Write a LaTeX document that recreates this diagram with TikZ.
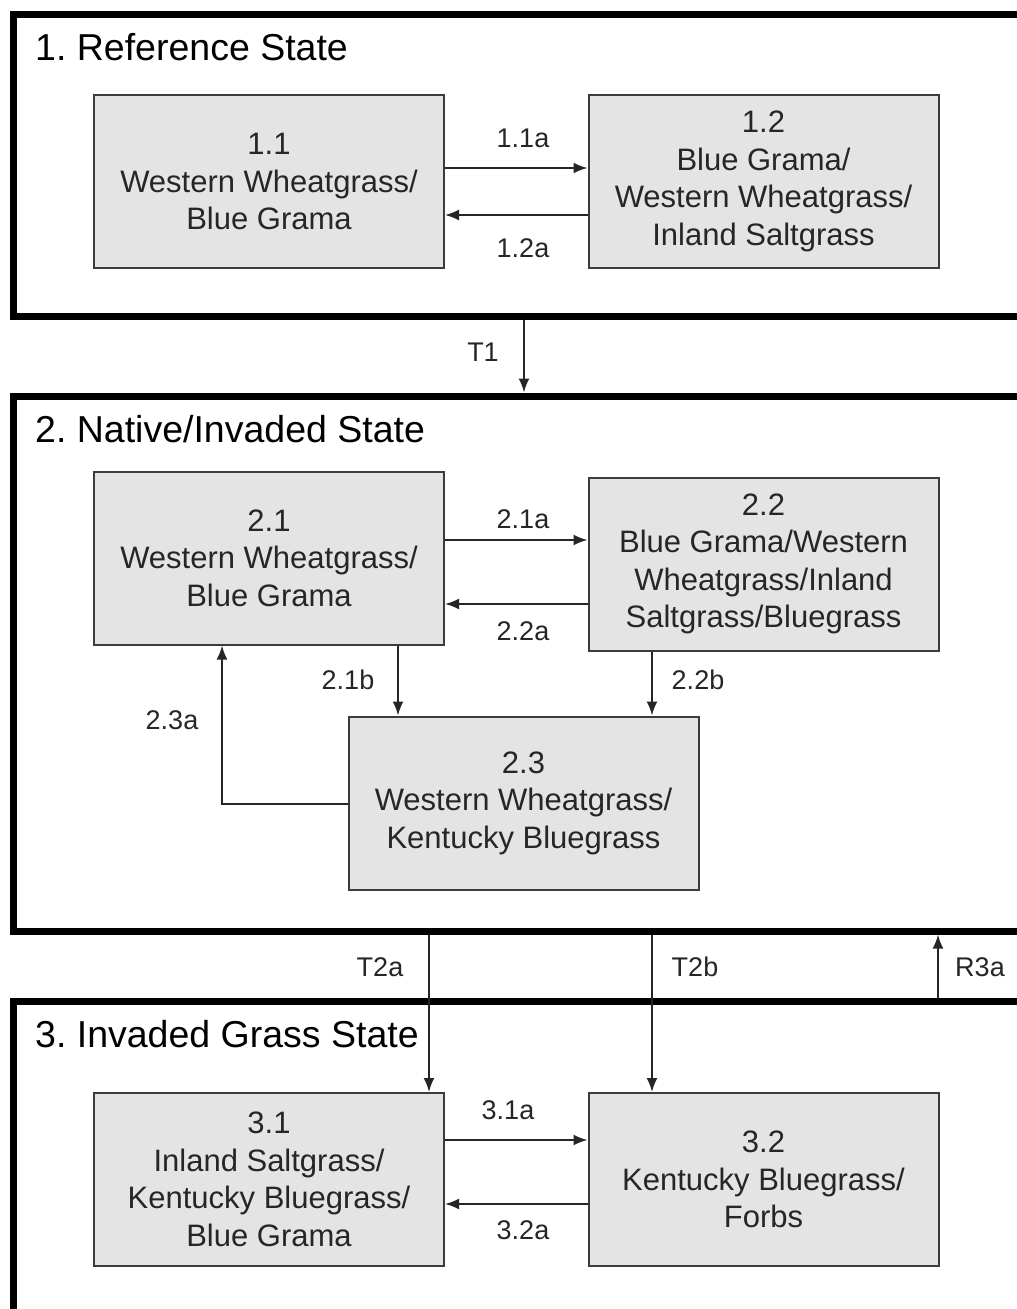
\documentclass[tikz,border=0pt]{standalone}
\usepackage{fontspec}
\setmainfont{Liberation Sans}
\usetikzlibrary{arrows.meta}
\definecolor{boxfill}{HTML}{E4E4E4}
\definecolor{boxline}{HTML}{3C3C3C}
\definecolor{txt}{HTML}{262626}
\frenchspacing
\begin{document}
\begin{tikzpicture}[x=1pt,y=-1pt,
  stateframe/.style={draw=black, line width=7pt, anchor=north west, inner sep=0pt, minimum width=1030pt},
  sub/.style={draw=boxline, line width=2pt, fill=boxfill, inner sep=0pt, align=center, text=txt,
    minimum width=350pt, minimum height=173pt, font=\fontsize{31}{37.5}\selectfont},
  arr/.style={line width=2pt, draw=black!85, -{Latex[length=14pt,width=11pt]}},
  lab/.style={text=txt, inner sep=0pt, font=\fontsize{27}{30}\selectfont},
  ttl/.style={anchor=base west, inner sep=0pt, text=black, font=\fontsize{37.5}{40}\selectfont}]
\useasboundingbox (0,0) rectangle (1017,1309);
\clip (0,0) rectangle (1017,1309);
\fill[white] (0,0) rectangle (1017,1309);

% state frames
\node[stateframe, minimum height=302pt] (s1) at (9.5,10.5) {};
\node[stateframe, minimum height=535pt] (s2) at (9.5,392.5) {};
\node[stateframe, minimum height=340pt] (s3) at (9.5,997.5) {};

\node[ttl] (t1) at (35,60) {1. Reference State};
\node[ttl] (t2) at (35,442) {2. Native/Invaded State};
\node[ttl] (t3) at (35,1047) {3. Invaded Grass State};

% community phases
\node[sub] (n11) at (269,181.5) {1.1\\Western Wheatgrass/\\Blue Grama};
\node[sub] (n12) at (763.5,181.5) {1.2\\Blue Grama/\\Western Wheatgrass/\\Inland Saltgrass};
\node[sub] (n21) at (269,558) {2.1\\Western Wheatgrass/\\Blue Grama};
\node[sub] (n22) at (763.5,564) {2.2\\Blue Grama/Western\\Wheatgrass/Inland\\Saltgrass/Bluegrass};
\node[sub] (n23) at (523.5,803) {2.3\\Western Wheatgrass/\\Kentucky Bluegrass};
\node[sub] (n31) at (269,1179.5) {3.1\\Inland Saltgrass/\\Kentucky Bluegrass/\\Blue Grama};
\node[sub] (n32) at (763.5,1179.5) {3.2\\Kentucky Bluegrass/\\Forbs};

% connectors
\draw[arr] (n11.east |- 0,168) -- (n12.west |- 0,168);
\draw[arr] (n12.west |- 0,215) -- (n11.east |- 0,215);
\draw[arr] (s1.south -| 524,0) -- (s2.north -| 524,0);
\draw[arr] (n21.east |- 0,540) -- (n22.west |- 0,540);
\draw[arr] (n22.west |- 0,604) -- (n21.east |- 0,604);
\draw[arr] (n21.south -| 398,0) -- (n23.north -| 398,0);
\draw[arr] (n22.south -| 652,0) -- (n23.north -| 652,0);
\draw[arr] (n23.west |- 0,804) -| (n21.south -| 222,0);
\draw[arr] (s2.south -| 429,0) -- (n31.north -| 429,0);
\draw[arr] (s2.south -| 652,0) -- (n32.north -| 652,0);
\draw[arr] (s3.north -| 938,0) -- (s2.south -| 938,0);
\draw[arr] (n31.east |- 0,1140) -- (n32.west |- 0,1140);
\draw[arr] (n32.west |- 0,1204) -- (n31.east |- 0,1204);

% labels
\node[lab] (l11a) at (523,138) {1.1a};
\node[lab] (l12a) at (523,248) {1.2a};
\node[lab] (lT1) at (483,352) {T1};
\node[lab] (l21a) at (523,519) {2.1a};
\node[lab] (l22a) at (523,631) {2.2a};
\node[lab] (l21b) at (348,680) {2.1b};
\node[lab] (l22b) at (698,680) {2.2b};
\node[lab] (l23a) at (172,720) {2.3a};
\node[lab] (lT2a) at (380,967) {T2a};
\node[lab] (lT2b) at (695,967) {T2b};
\node[lab] (lR3a) at (980,967) {R3a};
\node[lab] (l31a) at (508,1110) {3.1a};
\node[lab] (l32a) at (523,1230) {3.2a};
\end{tikzpicture}
\end{document}
